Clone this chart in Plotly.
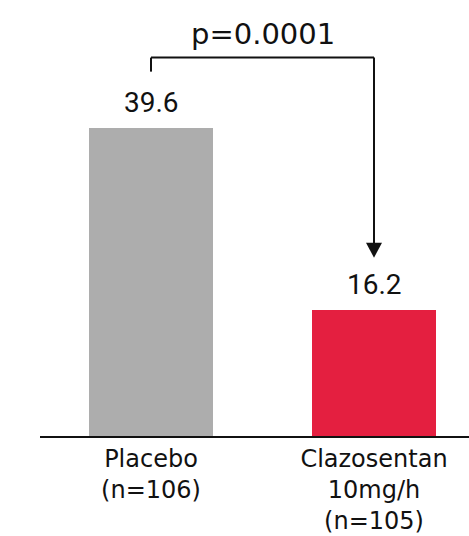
import plotly.graph_objects as go

# Data
categories = ["Placebo<br>(n=106)", "Clazosentan<br>10mg/h<br>(n=105)"]
values = [39.6, 16.2]
value_labels = ["39.6", "16.2"]
bar_colors = ["#ADADAD", "#E41F40"]
p_label = "p=0.0001"

x_pos = list(range(len(values)))

fig = go.Figure()
fig.add_trace(go.Bar(
    x=x_pos,
    y=values,
    width=0.556,
    marker=dict(color=bar_colors, line=dict(width=0)),
    hoverinfo="skip",
    showlegend=False,
))

# Value labels above bars
for xi, v, lab in zip(x_pos, values, value_labels):
    fig.add_annotation(
        x=xi, y=v, text=lab, showarrow=False,
        xanchor="center", yanchor="bottom", yshift=7,
        font=dict(family="Roboto", size=28, color="#111111"),
    )

# Significance bracket: from placebo bar down to treatment bar with an arrow
bracket_top = values[0] + 9.0
left_bottom = values[0] + 7.2
arrow_tip = values[1] + 6.7
line_style = dict(color="#111111", width=2)
fig.add_shape(type="line", x0=x_pos[0], x1=x_pos[0], y0=left_bottom, y1=bracket_top, line=line_style)
fig.add_shape(type="line", x0=x_pos[0], x1=x_pos[1], y0=bracket_top, y1=bracket_top, line=line_style)
fig.add_shape(type="line", x0=x_pos[1], x1=x_pos[1], y0=bracket_top, y1=arrow_tip + 1.0, line=line_style)
fig.add_shape(
    type="path", xsizemode="pixel", ysizemode="pixel",
    xanchor=x_pos[1], yanchor=arrow_tip,
    path="M-8,15 L8,15 L0,0 Z",
    fillcolor="#111111", line=dict(width=0),
)
fig.add_annotation(
    x=(x_pos[0] + x_pos[1]) / 2, y=bracket_top, text=p_label, showarrow=False,
    xanchor="center", yanchor="bottom", yshift=5,
    font=dict(family="DejaVu Sans", size=29, color="#111111"),
)

fig.update_layout(
    width=469, height=536,
    margin=dict(l=40, r=0, t=0, b=100, autoexpand=False),
    paper_bgcolor="white", plot_bgcolor="white",
    bargap=0,
)
fig.update_xaxes(
    range=[-0.4978, 1.426],
    tickvals=x_pos, ticktext=categories,
    showline=True, linecolor="#111111", linewidth=2,
    ticks="", showgrid=False, zeroline=False,
    ticklabelstandoff=0, automargin=False,
    tickfont=dict(family="DejaVu Sans", size=24, color="#111111"),
)
fig.update_yaxes(
    range=[0, 56], visible=False, showgrid=False, zeroline=False,
)

fig.write_html("out.html")
